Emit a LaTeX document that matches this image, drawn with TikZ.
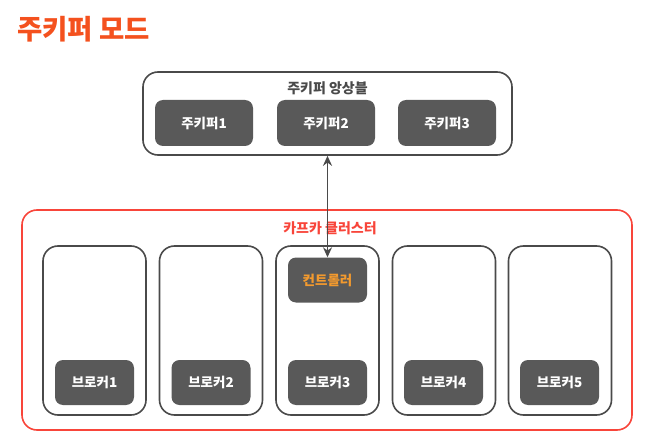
\documentclass[tikz,border=0pt]{standalone}
\usepackage{fontspec}
\setmainfont{Noto Sans CJK KR}
\usetikzlibrary{arrows.meta}

\definecolor{titleorange}{HTML}{F4511E}
\definecolor{clusterred}{HTML}{F8453A}
\definecolor{boxgray}{HTML}{595959}
\definecolor{linegray}{HTML}{4A4A4A}
\definecolor{ctrlorange}{HTML}{F39A2E}

\begin{document}
\begin{tikzpicture}[x=1pt, y=-1pt,
    group/.style={draw=linegray, line width=1.6pt, rounded corners=15pt, inner sep=0pt},
    unit/.style={fill=boxgray, rounded corners=8pt, minimum width=79pt, minimum height=45pt,
      text=white, font=\bfseries\fontsize{13.5}{15}\selectfont},
    grouplabel/.style={text=linegray, font=\bfseries\fontsize{14}{16}\selectfont}]
    \useasboundingbox (0,0) rectangle (649,444);

    \node[anchor=west, text=titleorange, font=\bfseries\fontsize{27.5}{30}\selectfont, inner sep=0pt] (title) at (17, 29) {주키퍼 모드};

    \node[group, minimum width=369pt, minimum height=83pt] (ens) at (327.5, 113.5) {};
    \node[grouplabel] (enslabel) at (327.5, 88) {주키퍼 앙상블};
    \node[unit, minimum width=98pt, minimum height=46pt] (zk1) at (204, 123) {주키퍼1};
    \node[unit, minimum width=98pt, minimum height=46pt] (zk2) at (326, 123) {주키퍼2};
    \node[unit, minimum width=98pt, minimum height=46pt] (zk3) at (447, 123) {주키퍼3};

    \node[group, draw=clusterred, minimum width=610pt, minimum height=220pt] (kafka) at (327, 320) {};
    \node[grouplabel, text=clusterred] (kafkalabel) at (330, 228) {카프카 클러스터};

    \node[group, minimum width=103pt, minimum height=169pt] (b1) at (94.5, 330.5) {};
    \node[group, minimum width=103pt, minimum height=169pt] (b2) at (211, 330.5) {};
    \node[group, minimum width=103pt, minimum height=169pt] (b3) at (327.5, 330.5) {};
    \node[group, minimum width=103pt, minimum height=169pt] (b4) at (444, 330.5) {};
    \node[group, minimum width=103pt, minimum height=169pt] (b5) at (560, 330.5) {};

    \node[unit] (bk1) at (94.5, 382.5) {브로커1};
    \node[unit] (bk2) at (211, 382.5) {브로커2};
    \node[unit] (bk3) at (327.5, 382.5) {브로커3};
    \node[unit] (bk4) at (443.5, 382.5) {브로커4};
    \node[unit] (bk5) at (559.5, 382.5) {브로커5};

    \node[unit, text=ctrlorange] (ctrl) at (327.5, 280) {컨트롤러};

    \draw[linegray, line width=1.8pt, {Stealth[length=10pt, width=9pt]}-{Stealth[length=10pt, width=9pt]}] (ens.south) -- (ctrl.north);

  \end{tikzpicture}
\end{document}
